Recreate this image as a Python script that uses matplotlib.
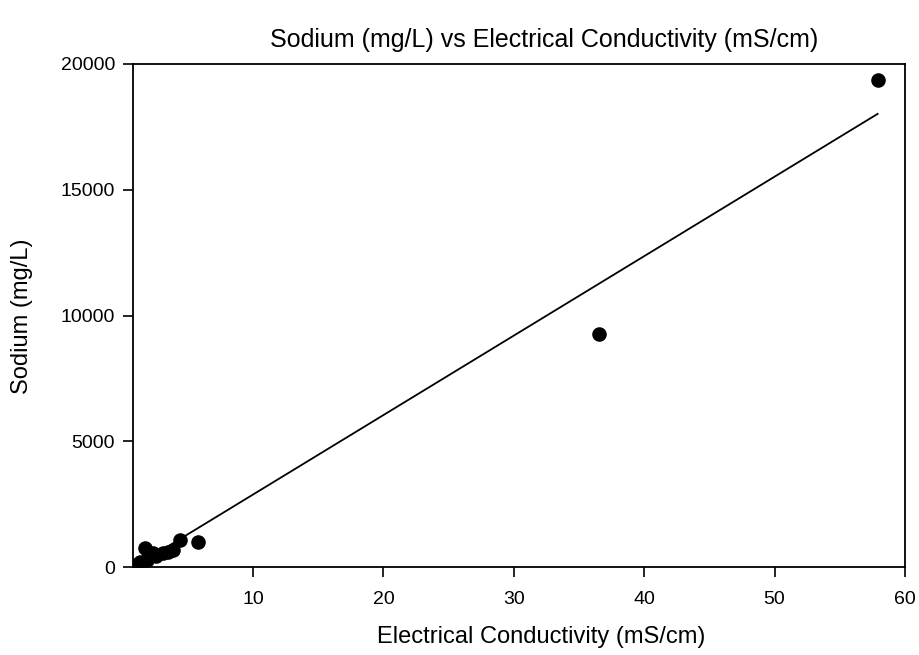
import matplotlib
matplotlib.use("Agg")
import matplotlib.pyplot as plt
import numpy as np

plt.rcParams['font.family'] = ['Liberation Sans', 'DejaVu Sans']

# Data
ec = [0.96, 1.3, 1.7, 1.9, 2.0, 2.3, 2.6, 3.1, 3.5, 3.9, 4.4, 5.8, 36.5, 57.9]
sodium = [80, 200, 755, 278, 500, 556, 450, 556, 600, 676, 1090, 1000, 9260, 19350]

# Regression line coefficients (estimated)
slope = 316.0
intercept = -280.0

x_ticks = [10, 20, 30, 40, 50, 60]
y_ticks = [0, 5000, 10000, 15000, 20000]

fig = plt.figure(figsize=(9.2, 6.55), dpi=100)
L, R, B, T = 133, 905, 567, 64
ax = fig.add_axes([L / 920, 1 - B / 655, (R - L) / 920, (B - T) / 655])

xl = np.array([min(ec), max(ec)])
ax.plot(xl, slope * xl + intercept, color='black', linewidth=1.3, zorder=2)
ax.scatter(ec, sodium, s=110, color='black', zorder=3, linewidths=0)

ax.set_xlim(0.8, 60)
ax.set_ylim(0, 20000)
ax.set_xticks(x_ticks)
ax.set_yticks(y_ticks)
ax.tick_params(direction='out', length=7, width=1.2, labelsize=14, top=False, right=False)
ax.tick_params(axis='x', pad=10)
ax.tick_params(axis='y', pad=6)
for s in ax.spines.values():
    s.set_linewidth(1.3)

ax.set_xlabel('Electrical Conductivity (mS/cm)', fontsize=17, va='center')
ax.xaxis.set_label_coords((541 - L) / (R - L), (B - 637) / (B - T))
ax.set_ylabel('Sodium (mg/L)', fontsize=17, va='center')
ax.yaxis.set_label_coords((22 - L) / (R - L), (B - 316) / (B - T))
fig.text(544.5 / 920, 1 - 40 / 655, 'Sodium (mg/L) vs Electrical Conductivity (mS/cm)',
         fontsize=18, ha='center', va='center')

fig.savefig('out.png', dpi=100)
